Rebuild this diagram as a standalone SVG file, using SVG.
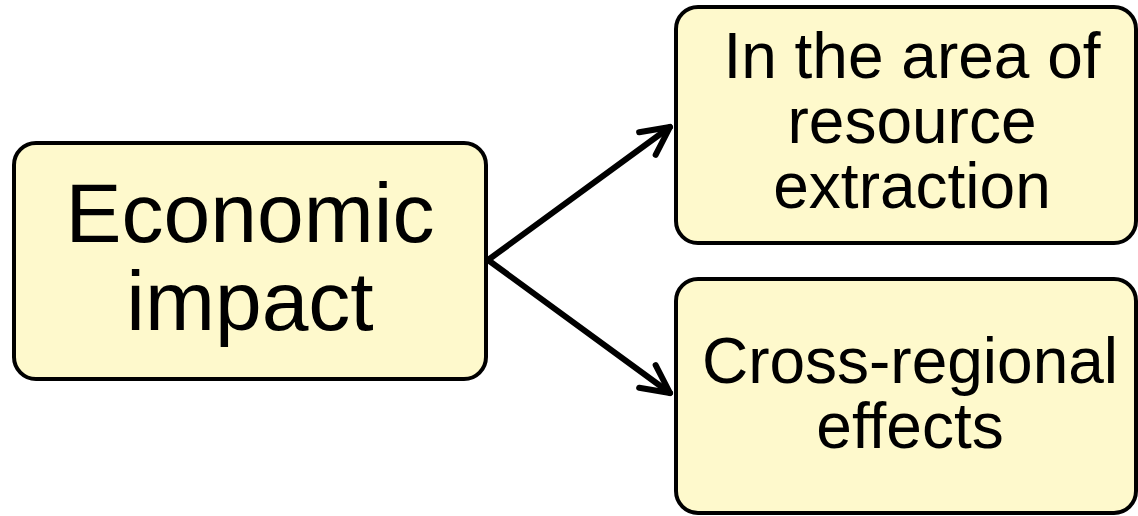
<svg xmlns="http://www.w3.org/2000/svg" width="1138" height="516" viewBox="0 0 1138 516">
<style>
.box{fill:#fef9cc;stroke:#000;stroke-width:4}
.t{font-family:"Liberation Sans",Arial,sans-serif;fill:#000;text-anchor:middle}
.conn{stroke:#000;stroke-width:6;fill:none;stroke-linecap:round}
</style>
<defs>
<marker id="arr" markerUnits="userSpaceOnUse" viewBox="-34 -20 40 40" markerWidth="40" markerHeight="40" refX="0" refY="0" orient="auto">
<path d="M-28,-14 L0,0 L-28,14" fill="none" stroke="#000" stroke-width="6" stroke-linecap="round" stroke-linejoin="round"/>
</marker>
</defs>
<rect width="1138" height="516" fill="#fff"/>
<g id="connectors">
<line class="conn" x1="488" y1="260" x2="670" y2="127" marker-end="url(#arr)"/>
<line class="conn" x1="488" y1="260" x2="670" y2="393" marker-end="url(#arr)"/>
</g>
<g id="node-economic">
<rect class="box" x="14" y="143" width="472" height="236" rx="22"/>
<text class="t" x="250" y="242" font-size="84">Economic</text>
<text class="t" x="250" y="330" font-size="84">impact</text>
</g>
<g id="node-resource">
<rect class="box" x="676" y="7" width="460" height="236" rx="22"/>
<text class="t" x="912" y="78" font-size="64">In the area of</text>
<text class="t" x="912" y="143" font-size="64">resource</text>
<text class="t" x="912" y="208" font-size="64">extraction</text>
</g>
<g id="node-cross">
<rect class="box" x="676" y="279" width="460" height="234" rx="22"/>
<text class="t" x="910" y="383" font-size="64">Cross-regional</text>
<text class="t" x="910" y="448" font-size="64">effects</text>
</g>
</svg>
